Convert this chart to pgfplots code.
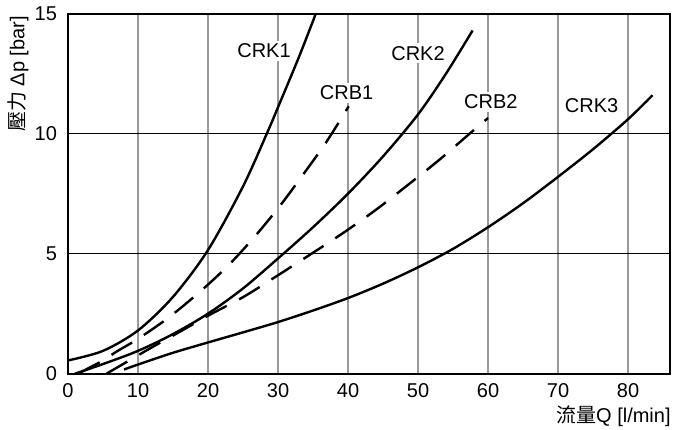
\documentclass[border=0pt]{standalone}
\usepackage{fontspec}
\setmainfont{Liberation Sans}
\newfontfamily\cjk{Noto Sans CJK TC}
\usepackage{pgfplots}
\pgfplotsset{compat=1.18}
\usetikzlibrary{calc}

\begin{document}
\begin{tikzpicture}
\begin{axis}[
  scale only axis,
  width=301pt, height=180pt,
  xmin=0, xmax=86, ymin=0, ymax=15,
  xtick={0,10,20,30,40,50,60,70,80},
  ytick={0,5,10,15},
  tick style={draw=none},
  axis line style={line width=1pt},
  xmajorgrids, ymajorgrids,
  x grid style={gray!80, line width=0.55pt},
  y grid style={black, line width=0.6pt},
  /pgf/number format/assume math mode=true,
  tick label style={font=\fontsize{10}{12}\selectfont},
  xticklabel style={yshift=-1.5pt},
  yticklabel style={xshift=-2pt},
  xlabel={{\cjk 流量}Q [l/min]},
  xlabel style={at={(axis description cs:1,0)}, anchor=east, inner sep=0pt, xshift=0.5pt, yshift=-21.5pt, font=\fontsize{10}{12}\selectfont},
  ylabel={{\cjk 壓力} Δp [bar]},
  ylabel style={at={(axis description cs:-0.083,1.0)}, anchor=east, inner sep=1pt, font=\fontsize{10}{12}\selectfont},
  every axis plot/.append style={black, line width=1.2pt, no markers},
]
% CRK1
\addplot[solid, smooth] coordinates {(0,0.55) (5,0.95) (10,1.8) (15,3.2) (20,5.15) (25,7.8) (28.4,10) (30,11.1) (33,13.2) (35.4,15.0)};
% CRB1
\addplot[smooth, dash pattern=on 12pt off 7pt] coordinates {(1.5,0) (3,0.24) (5,0.55) (7,0.93) (10,1.45) (14.3,2.32) (18.8,3.4) (22.9,4.51) (26.7,5.72) (30.3,7.0) (33.6,8.3) (36.9,9.65) (40.1,11.14)};
% CRK2
\addplot[solid, smooth] coordinates {(1,0) (5,0.4) (10,0.95) (15,1.65) (20,2.5) (25,3.55) (30,4.8) (35,6.1) (40,7.5) (45,9.05) (50,10.8) (54,12.5) (57.8,14.3)};
% CRB2
\addplot[smooth, dash pattern=on 12pt off 7pt] coordinates {(5.5,0) (8.7,0.54) (12,1.1) (16,1.75) (20.3,2.46) (25.2,3.22) (30,4.1) (34.8,5.0) (39.5,5.9) (44,6.83) (48.5,7.85) (52.9,8.875) (57.1,9.93) (60,10.65)};
% CRK3
\addplot[solid, smooth] coordinates {(8,0.17) (10,0.38) (15,0.87) (20,1.3) (25,1.72) (30,2.15) (35,2.63) (40,3.15) (45,3.75) (50,4.43) (55,5.2) (60,6.1) (65,7.1) (70,8.2) (75,9.35) (80,10.6) (83.5,11.6)};

\begin{scope}[every node/.style={fill=white, inner sep=1.5pt, font=\fontsize{10}{12}\selectfont}]
\node at (axis cs:28.0,13.46) {CRK1};
\node at (axis cs:39.8,11.7) {CRB1};
\node at (axis cs:50,13.35) {CRK2};
\node at (axis cs:60.4,11.33) {CRB2};
\node at (axis cs:74.8,11.15) {CRK3};
\end{scope}
\end{axis}
\path[use as bounding box] ($(current axis.south west)+(-34pt,-28pt)$) rectangle ($(current axis.north east)+(7pt,4.5pt)$);
\end{tikzpicture}
\end{document}
